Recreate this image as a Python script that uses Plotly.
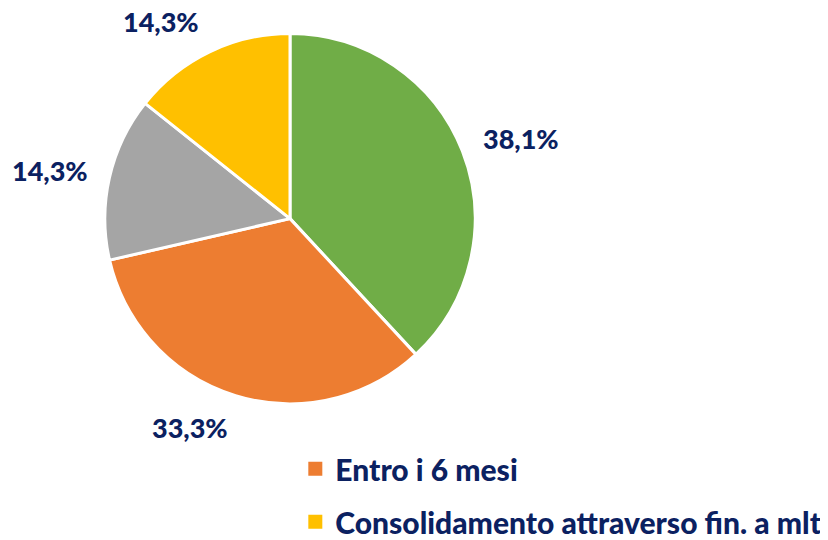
import numpy as np
import plotly.graph_objects as go

labels = ["Altro A", "Entro i 6 mesi", "Altro B", "Consolidamento attraverso fin. a mlt"]
values = [38.1, 33.3, 14.3, 14.3]
colors = ["#70AD47", "#ED7D31", "#A5A5A5", "#FFC000"]
legend_labels = ["Entro i 6 mesi", "Consolidamento attraverso fin. a mlt"]
legend_colors = ["#ED7D31", "#FFC000"]

W, H = 828, 540
CX, CY, R = 282, 215, 187      # pie centre and radius in figure pixels
GAP_X, GAP_Y = 18, 24          # gap between pie edge and labels
HALF_H = 12                     # half label height

text = [f"{v:.1f}%".replace(".", ",") for v in values]
navy = "#0B2161"
font_family = "Lato, 'Open Sans', sans-serif"

fig = go.Figure()
fig.add_trace(go.Pie(
    labels=labels, values=values,
    textinfo="none", sort=False, direction="clockwise", rotation=0,
    marker=dict(colors=colors, line=dict(color="white", width=3)),
    showlegend=False, hoverinfo="skip",
    domain=dict(x=[(CX - R - 2) / W, (CX + R + 2) / W],
                y=[1 - (CY + R + 2) / H, 1 - (CY - R - 2) / H]),
))

# outside labels positioned at each slice's mid angle
vals = np.array(values)
cum = np.cumsum(vals) - vals / 2
ang = cum / vals.sum() * 2 * np.pi
for a, t in zip(ang, text):
    dx, dy = np.sin(a), -np.cos(a)
    px = CX + (R + GAP_X) * dx
    py = CY + (R + GAP_Y) * dy + HALF_H * dy
    fig.add_annotation(
        x=px / W, y=1 - py / H, xref="paper", yref="paper",
        text=t, showarrow=False, xanchor="left" if dx > 0 else "right", yanchor="middle",
        font=dict(family=font_family, size=27, color=navy, weight=900),
    )

for i, (name, c) in enumerate(zip(legend_labels, legend_colors)):
    fig.add_trace(go.Scatter(
        x=[None], y=[None], mode="markers", name=name, legendgroup=str(i),
        marker=dict(symbol="square", size=14, color=c),
    ))

fig.update_layout(
    width=W, height=H,
    margin=dict(l=0, r=0, t=0, b=0),
    paper_bgcolor="white", plot_bgcolor="white",
    xaxis=dict(visible=False), yaxis=dict(visible=False),
    legend=dict(
        x=0.347, y=0.178, xanchor="left", yanchor="top",
        font=dict(family=font_family, size=30, color=navy, weight=900),
        tracegroupgap=11, itemwidth=30,
    ),
    font=dict(family=font_family),
)

fig.write_html("out.html")
